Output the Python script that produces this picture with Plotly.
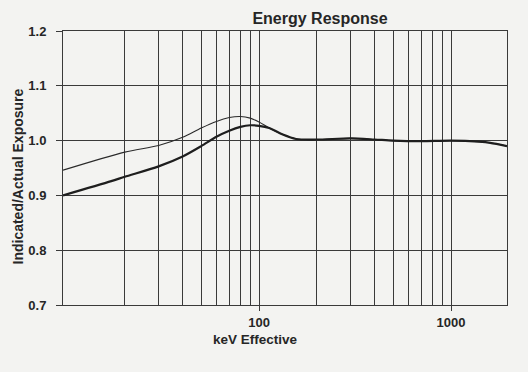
import plotly.graph_objects as go
import numpy as np

# Energy (keV effective)
energy_upper = [9.53, 20, 30, 40, 50, 60, 70, 80, 90, 100, 113, 133, 156, 200, 300, 400, 500, 700, 1000, 1400, 1600, 1957]
resp_upper = [0.946, 0.979, 0.991, 1.006, 1.023, 1.035, 1.042, 1.044, 1.041, 1.034, 1.023, 1.011, 1.003, 1.002, 1.004, 1.002, 1.000, 0.999, 1.000, 0.998, 0.996, 0.990]

energy_lower = [9.53, 17, 20, 30, 40, 50, 60, 70, 80, 90, 100, 113, 133, 156, 200, 300, 400, 500, 700, 1000, 1400, 1600, 1957]
resp_lower = [0.900, 0.926, 0.934, 0.953, 0.971, 0.990, 1.007, 1.018, 1.025, 1.028, 1.027, 1.023, 1.011, 1.003, 1.002, 1.004, 1.002, 1.000, 0.999, 1.000, 0.998, 0.996, 0.990]

x_major = [100, 1000]
x_minor = [20, 30, 40, 50, 60, 70, 80, 90, 200, 300, 400, 500, 600, 700, 800, 900]
y_ticks = [0.7, 0.8, 0.9, 1.0, 1.1, 1.2]

FONT = "Liberation Sans, Arial, sans-serif"
TXT = "#262626"
GRID = "#3a3a3a"
BG = "#f3f3f1"

fig = go.Figure()
fig.add_trace(go.Scatter(x=energy_upper, y=resp_upper, mode="lines",
                         line=dict(color="#2a2a2a", width=1.1, shape="spline", smoothing=0.8),
                         showlegend=False))
fig.add_trace(go.Scatter(x=energy_lower, y=resp_lower, mode="lines",
                         line=dict(color="#1e1e1e", width=2.2, shape="spline", smoothing=0.8),
                         showlegend=False))

fig.update_layout(
    width=528, height=372,
    margin=dict(l=63, r=21, t=31, b=67),
    paper_bgcolor=BG, plot_bgcolor=BG,
    font=dict(family=FONT, size=13, color=TXT, weight="bold"),
    title=dict(text="Energy Response", x=320/528, xref="container", xanchor="center",
               y=1 - 18/372, yref="container", yanchor="middle",
               font=dict(family=FONT, size=16, color=TXT, weight="bold")),
)
fig.update_xaxes(
    type="log", range=[np.log10(9.53), np.log10(1957)],
    tickvals=x_major, ticktext=[str(v) for v in x_major],
    ticks="outside", ticklen=5, tickcolor=GRID, tickwidth=1,
    showgrid=True, gridcolor=GRID, gridwidth=1,
    minor=dict(tickvals=x_minor, showgrid=True, gridcolor=GRID, gridwidth=1, ticks=""),
    showline=True, linecolor=GRID, linewidth=1, mirror=True,
    zeroline=False,
    tickfont=dict(family=FONT, size=13, color=TXT, weight="bold"),
)
fig.update_yaxes(
    range=[0.7, 1.2], tickvals=y_ticks, tickformat=".1f",
    ticks="outside", ticklen=6, tickcolor=GRID, tickwidth=1,
    showgrid=True, gridcolor=GRID, gridwidth=1,
    showline=True, linecolor=GRID, linewidth=1, mirror=True,
    zeroline=False, ticklabelstandoff=7,
    tickfont=dict(family=FONT, size=13, color=TXT, weight="bold"),
)
fig.add_annotation(text="keV Effective", xref="paper", yref="paper",
                   x=(255.5 - 63) / 444, y=(305 - 339.3) / 274, xanchor="center", yanchor="middle",
                   showarrow=False, font=dict(family=FONT, size=13.5, color=TXT, weight="bold"))
fig.add_annotation(text="Indicated/Actual Exposure", xref="paper", yref="paper",
                   x=(17 - 63) / 444, y=(305 - 176.5) / 274, xanchor="center", yanchor="middle",
                   textangle=-90, showarrow=False,
                   font=dict(family=FONT, size=14, color=TXT, weight="bold"))

fig.write_html("out.html", config={"displayModeBar": False},
               post_script="document.body.style.margin='0';document.body.style.background='%s';" % BG)
